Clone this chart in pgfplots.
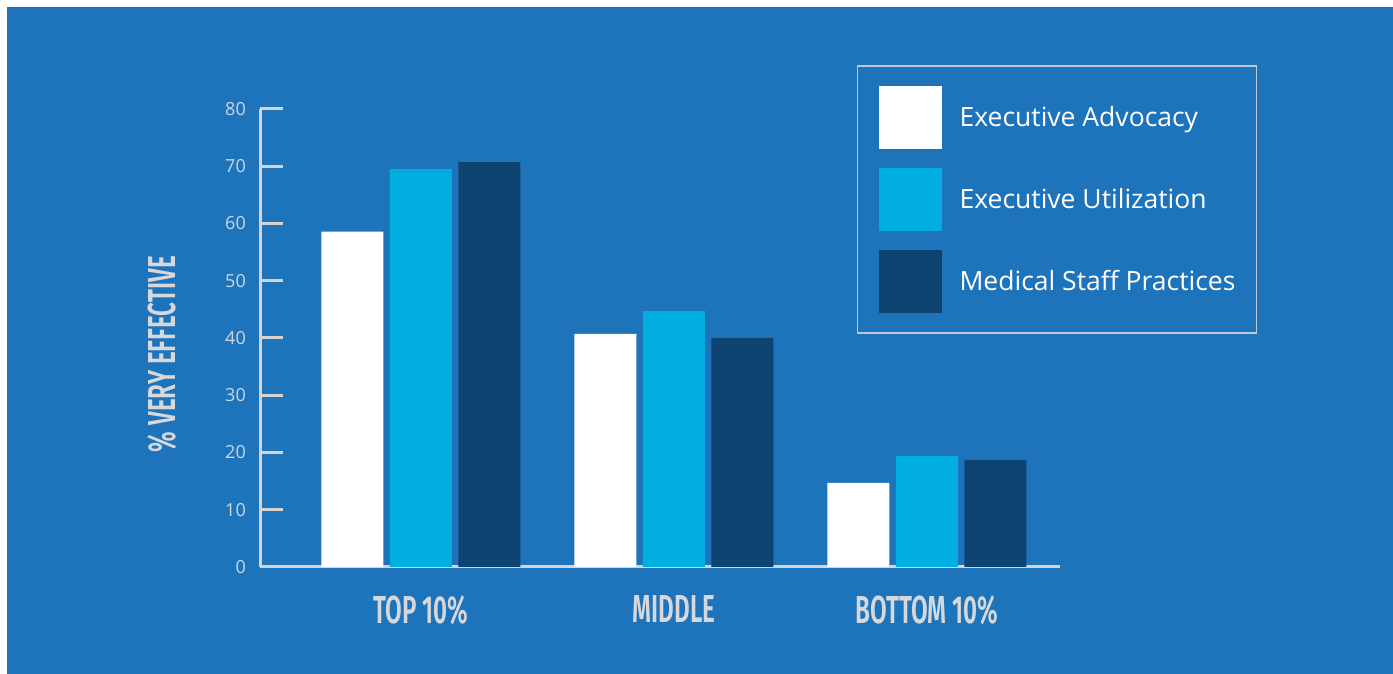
\documentclass[border=0pt]{standalone}
\usepackage{pgfplots}
\pgfplotsset{compat=1.18}
\usepackage{fontspec}
\setmainfont{Open Sans}
\newfontfamily\condfont[FakeStretch=0.62, BoldFont={Fira Sans SemiBold}]{Fira Sans}

\definecolor{bgblue}{RGB}{30,116,187}
\definecolor{barcyan}{RGB}{0,174,224}
\definecolor{bardark}{RGB}{14,67,114}
\definecolor{axisgray}{RGB}{212,212,214}
\definecolor{tickgray}{RGB}{205,214,224}
\definecolor{labelgray}{RGB}{214,216,220}
\definecolor{boxgray}{RGB}{190,200,215}

\pgfplotsset{
  swatch/.style={legend image code/.code={\fill[##1] (0pt,-31.5pt) rectangle (63pt,31.5pt);}},
}

\begin{document}
\begin{tikzpicture}
  \useasboundingbox (0,0) rectangle (1393pt,674pt);
  \fill[white] (0,0) rectangle (1393pt,674pt);
  \fill[bgblue] (7pt,0) rectangle (1393pt,667pt);
  \begin{axis}
  [
    at={(260pt,107pt)},
    anchor=south west,
    scale only axis,
    width=800pt,
    height=458pt,
    clip=false,
    ybar=6.5pt,
    bar width=62pt,
    xmin=-0.636,
    xmax=2.526,
    ymin=0,
    ymax=80,
    xtick={0,1,2},
    xticklabels={TOP 10\%, MIDDLE, BOTTOM 10\%},
    ytick={0,10,...,80},
    axis x line=bottom,
    axis y line=left,
    axis line style={draw=axisgray, line width=3pt, -},
    tick align=inside,
    major tick length=23pt,
    tick style={draw=axisgray, line width=3pt},
    xtick style={draw=none},
    /pgf/number format/assume math mode=true,
    yticklabel style={font=\fontsize{18}{20}\selectfont, text=tickgray, anchor=east, inner sep=0pt, xshift=-14pt},
    xticklabel style={font=\condfont\bfseries\fontsize{39}{40}\selectfont, text=labelgray, anchor=north, inner sep=0pt, yshift=-28pt},
    ylabel={\% VERY EFFECTIVE},
    ylabel style={font=\condfont\bfseries\fontsize{39}{40}\selectfont, text=labelgray, at={(axis description cs:-0.1225,0.465)}, anchor=center, inner sep=0pt},
    legend cell align=left,
    legend style={
      at={(0.746,1.096)}, anchor=north west,
      draw=boxgray, line width=1.5pt, fill=none,
      inner xsep=21pt, inner ysep=20pt,
      row sep=19pt, column sep=18pt,
      nodes={inner sep=0pt, anchor=west, text=white, font=\fontsize{26.5}{30}\selectfont},
    },
  ]
    \addplot[fill=white, draw=none, swatch] coordinates {(0,58.6) (1,40.7) (2,14.7)};
    \addplot[fill=barcyan, draw=none, swatch] coordinates {(0,69.5) (1,44.7) (2,19.4)};
    \addplot[fill=bardark, draw=none, swatch] coordinates {(0,70.7) (1,40.0) (2,18.7)};
    \legend{Executive Advocacy, Executive Utilization, Medical Staff Practices}
  \end{axis}
\end{tikzpicture}
\end{document}
